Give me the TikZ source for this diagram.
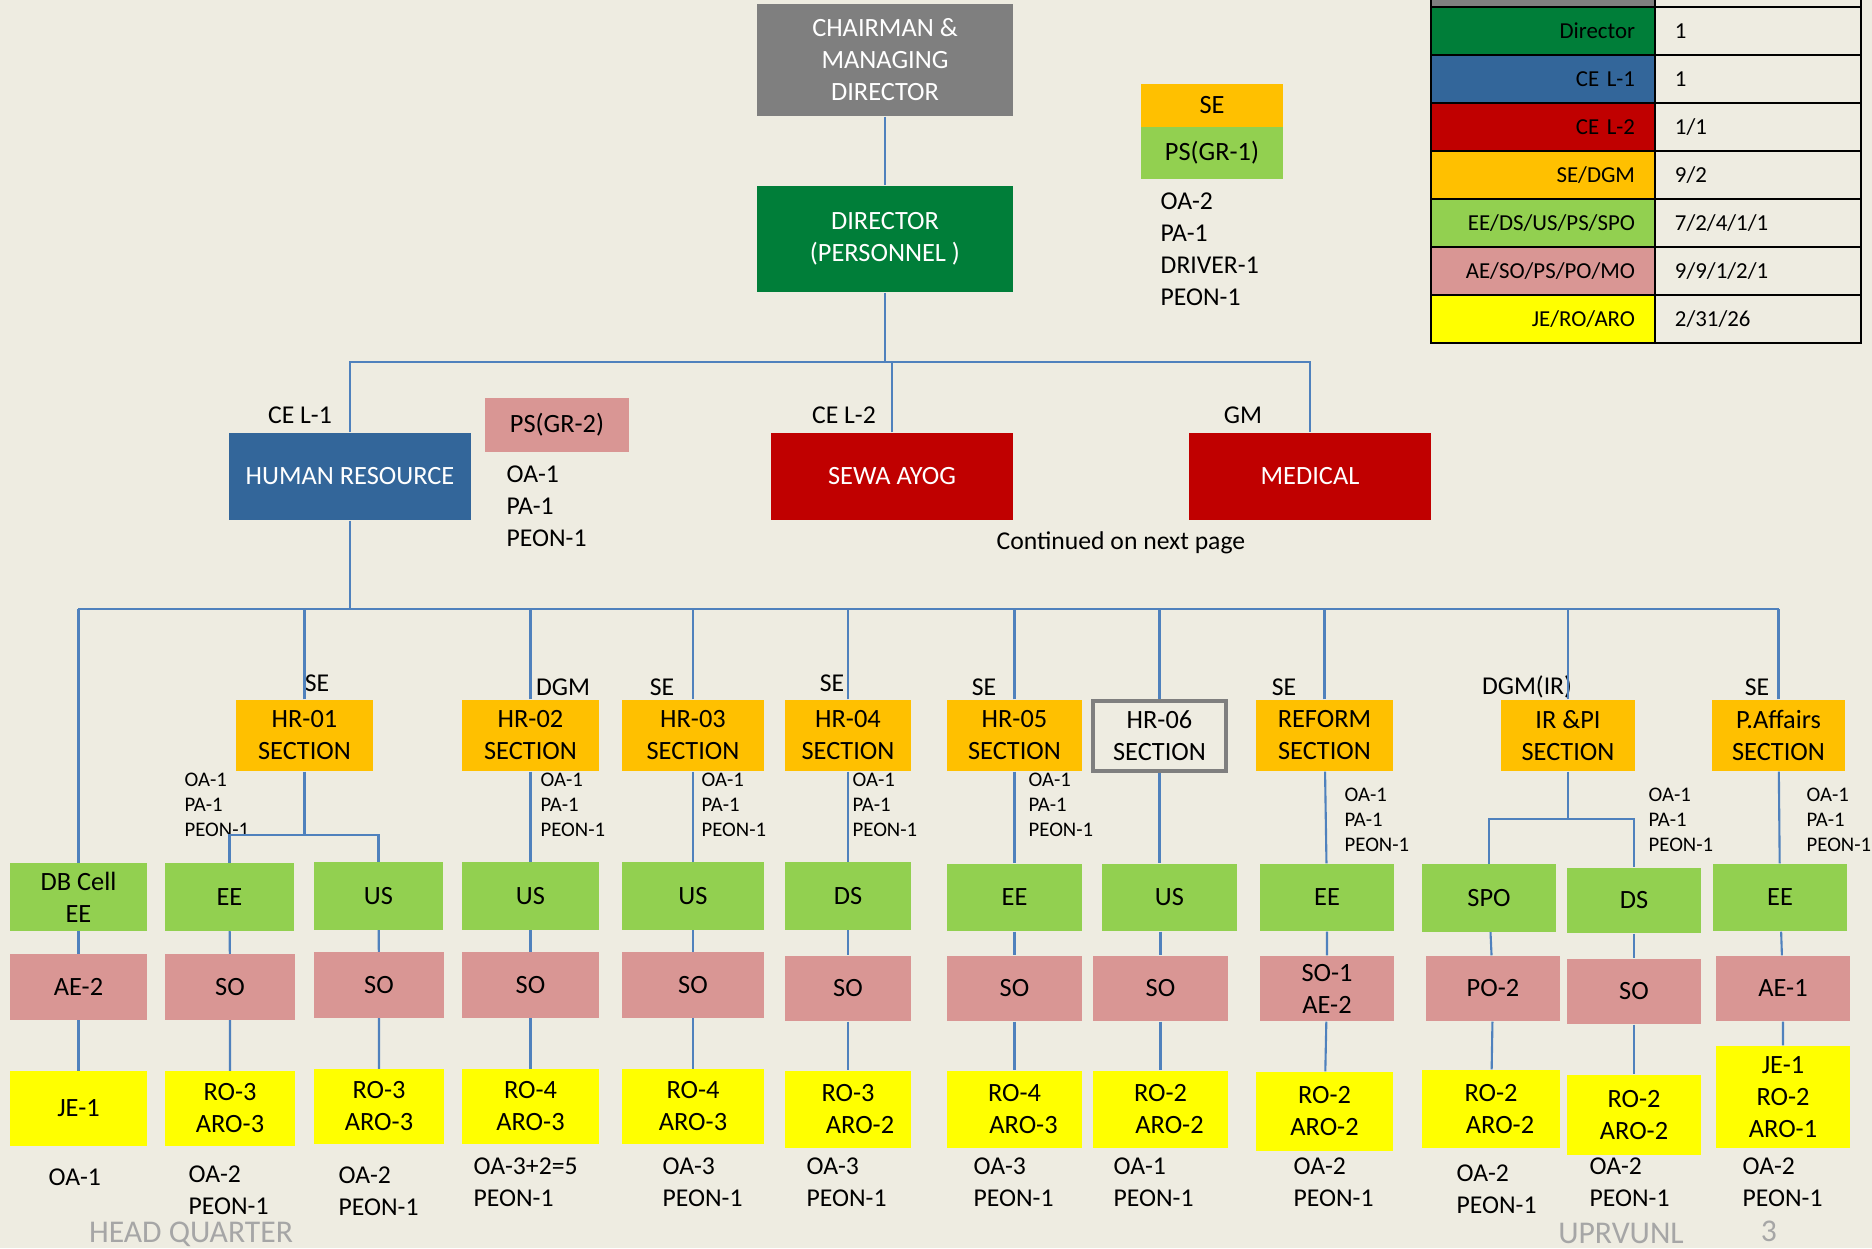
\documentclass[tikz,border=0pt]{standalone}
\usepackage{fontspec}
\setmainfont{Carlito}
\definecolor{paper}{HTML}{EEECE1}
\definecolor{linkBlue}{HTML}{4F81BD}
\definecolor{cmdGray}{HTML}{7F7F7F}
\definecolor{dirGreen}{HTML}{007E39}
\definecolor{ceBlue}{HTML}{33669A}
\definecolor{ceRed}{HTML}{C00000}
\definecolor{seOrange}{HTML}{FFC000}
\definecolor{eeGreen}{HTML}{92D050}
\definecolor{aePink}{HTML}{D99694}
\definecolor{jeYellow}{HTML}{FFFF00}
\definecolor{footGray}{HTML}{A6A6A6}

\begin{document}
\begin{tikzpicture}[
    x=0.01cm, y=-0.01cm,
    boxbase/.style = {inner sep=0pt, align=center, font=\fontsize{7.5}{9.1}\selectfont},
    topbox/.style = {boxbase, text=white},
    sect/.style = {boxbase, fill=seOrange, minimum height=0.71cm},
    post/.style = {boxbase, fill=eeGreen, minimum height=0.67cm},
    officer/.style = {boxbase, fill=aePink, minimum height=0.65cm},
    junior/.style = {boxbase, fill=jeYellow, minimum height=0.74cm},
    link/.style = {draw=linkBlue, line width=0.6pt},
    rank/.style = {inner sep=0pt, font=\fontsize{7.3}{9}\selectfont},
    staff/.style = {inner sep=0pt, anchor=north west, align=left, font=\fontsize{7.3}{9.1}\selectfont},
    substaff/.style = {inner sep=0pt, anchor=north west, align=left, font=\fontsize{5.9}{7.2}\selectfont},
    keycell/.style = {draw=black, line width=0.7pt, minimum height=0.48cm, text width=1.84cm,
      inner xsep=0.2cm, inner ysep=0pt, align=right, font=\fontsize{6.5}{8}\selectfont},
    valcell/.style = {draw=black, line width=0.7pt, minimum height=0.48cm, text width=1.66cm,
      inner xsep=0.2cm, inner ysep=0pt, align=left, fill=paper, font=\fontsize{6.5}{8}\selectfont},
    footer/.style = {inner sep=0pt, text=footGray, font=\fontsize{9}{10}\selectfont}
  ]
\fill[paper] (0,0) rectangle (1872,1248);
\useasboundingbox (0,0) rectangle (1872,1248);

% top of the chart
\node[topbox, fill=cmdGray, minimum width=2.56cm, minimum height=1.12cm] (cmd) at (885,60) {CHAIRMAN \&\\MANAGING\\DIRECTOR};
\node[topbox, fill=dirGreen, minimum width=2.56cm, minimum height=1.06cm] (dirp) at (885,239) {DIRECTOR\\(PERSONNEL )};
\node[boxbase, fill=seOrange, minimum width=1.42cm, minimum height=0.43cm] (sepd) at (1212,105.5) {SE};
\node[boxbase, fill=eeGreen, minimum width=1.42cm, minimum height=0.52cm] (psgr1) at (1212,153) {PS(GR-1)};
\node[staff] (pdstaff) at (1160,192) {OA-2\\PA-1\\DRIVER-1\\PEON-1};

\node[topbox, fill=ceBlue, minimum width=2.42cm, minimum height=0.87cm] (hr) at (350,476.5) {HUMAN RESOURCE};
\node[topbox, fill=ceRed, minimum width=2.42cm, minimum height=0.87cm] (sewa) at (892,476.5) {SEWA AYOG};
\node[topbox, fill=ceRed, minimum width=2.42cm, minimum height=0.87cm] (med) at (1310,476.5) {MEDICAL};
\node[boxbase, fill=aePink, minimum width=1.44cm, minimum height=0.54cm] (psgr2) at (557,425) {PS(GR-2)};
\node[staff] (hrstaff) at (506,465) {OA-1\\PA-1\\PEON-1};
\node[rank] (lcel1) at (300,415) {CE L-1};
\node[rank] (lcel2) at (844,415) {CE L-2};
\node[rank] (lgm) at (1243,415) {GM};
\node[rank] (cont) at (1121,543) {Continued on next page};

\coordinate (topbus) at (885,362);
\draw[link] (cmd) -- (dirp);
\draw[link] (dirp) -- (topbus);
\draw[link] (hr) |- (topbus) -| (med);
\draw[link] (sewa) -- (sewa |- topbus);

% legend
\node[keycell, fill=cmdGray] (k0) at (1543,-17) {};
\node[valcell] (v0) at (1758,-17) {};
\node[keycell, fill=dirGreen] (k1) at (1543,31) {Director};
\node[valcell] (v1) at (1758,31) {1};
\node[keycell, fill=ceBlue] (k2) at (1543,79) {CE L-1};
\node[valcell] (v2) at (1758,79) {1};
\node[keycell, fill=ceRed] (k3) at (1543,127) {CE L-2};
\node[valcell] (v3) at (1758,127) {1/1};
\node[keycell, fill=seOrange] (k4) at (1543,175) {SE/DGM};
\node[valcell] (v4) at (1758,175) {9/2};
\node[keycell, fill=eeGreen] (k5) at (1543,223) {EE/DS/US/PS/SPO};
\node[valcell] (v5) at (1758,223) {7/2/4/1/1};
\node[keycell, fill=aePink] (k6) at (1543,271) {AE/SO/PS/PO/MO};
\node[valcell] (v6) at (1758,271) {9/9/1/2/1};
\node[keycell, fill=jeYellow] (k7) at (1543,319) {JE/RO/ARO};
\node[valcell] (v7) at (1758,319) {2/31/26};

% sections
\node[sect, minimum width=1.37cm] (hr01) at (304.5,735.5) {HR-01\\SECTION};
\node[sect, minimum width=1.37cm] (hr02) at (530.5,735.5) {HR-02\\SECTION};
\node[sect, minimum width=1.42cm] (hr03) at (693,735.5) {HR-03\\SECTION};
\node[sect, minimum width=1.26cm] (hr04) at (848,735.5) {HR-04\\SECTION};
\node[sect, minimum width=1.35cm] (hr05) at (1014.5,735.5) {HR-05\\SECTION};
\node[boxbase, draw=cmdGray, line width=1.1pt, minimum width=1.33cm, minimum height=0.70cm] (hr06) at (1159.5,736) {HR-06\\SECTION};
\node[sect, minimum width=1.37cm] (reform) at (1324.5,735.5) {REFORM\\SECTION};
\node[sect, minimum width=1.34cm] (irpi) at (1568,735.5) {IR \&PI\\SECTION};
\node[sect, minimum width=1.33cm] (paff) at (1778.5,735.5) {P.Affairs\\SECTION};

\node[rank] (lse1) at (317,683) {SE};
\node[rank] (ldgm2) at (563,687) {DGM};
\node[rank] (lse3) at (662,687) {SE};
\node[rank] (lse4) at (832,683) {SE};
\node[rank] (lse5) at (984,687) {SE};
\node[rank] (lse7) at (1284,687) {SE};
\node[rank] (ldgm8) at (1527,687) {DGM(IR)};
\node[rank] (lse9) at (1757,687) {SE};

\node[substaff] (sub1) at (184,772) {OA-1\\PA-1\\PEON-1};
\node[substaff] (sub2) at (540,772) {OA-1\\PA-1\\PEON-1};
\node[substaff] (sub3) at (701,772) {OA-1\\PA-1\\PEON-1};
\node[substaff] (sub4) at (852,772) {OA-1\\PA-1\\PEON-1};
\node[substaff] (sub5) at (1028,772) {OA-1\\PA-1\\PEON-1};
\node[substaff] (sub7) at (1344,787) {OA-1\\PA-1\\PEON-1};
\node[substaff] (sub8) at (1648,787) {OA-1\\PA-1\\PEON-1};
\node[substaff] (sub9) at (1806,787) {OA-1\\PA-1\\PEON-1};

% officers
\node[post, minimum width=1.37cm] (db) at (78.5,897) {DB Cell\\EE};
\node[post, minimum width=1.29cm] (ee1) at (229.5,897) {EE};
\node[post, minimum width=1.29cm] (us1) at (378.5,896) {US};
\node[post, minimum width=1.37cm] (us2) at (530.5,896) {US};
\node[post, minimum width=1.42cm] (us3) at (693,896) {US};
\node[post, minimum width=1.26cm] (ds4) at (848,896) {DS};
\node[post, minimum width=1.35cm] (ee5) at (1014.5,897.5) {EE};
\node[post, minimum width=1.35cm] (us6) at (1169.5,897.5) {US};
\node[post, minimum width=1.34cm] (ee7) at (1327,897.5) {EE};
\node[post, minimum width=1.34cm] (spo) at (1489,898) {SPO};
\node[post, minimum width=1.34cm, minimum height=0.65cm] (ds8) at (1634,900.5) {DS};
\node[post, minimum width=1.34cm] (ee9) at (1780,897.5) {EE};

\node[officer, minimum width=1.37cm] (ae0) at (78.5,987) {AE-2};
\node[officer, minimum width=1.30cm] (so1) at (230,987) {SO};
\node[officer, minimum width=1.30cm] (so1b) at (379,985) {SO};
\node[officer, minimum width=1.37cm] (so2) at (530.5,985) {SO};
\node[officer, minimum width=1.42cm] (so3) at (693,985) {SO};
\node[officer, minimum width=1.26cm] (so4) at (848,988.5) {SO};
\node[officer, minimum width=1.35cm] (so5) at (1014.5,988.5) {SO};
\node[officer, minimum width=1.35cm] (so6) at (1160.5,988.5) {SO};
\node[officer, minimum width=1.34cm] (soae7) at (1327,988.5) {SO-1\\AE-2};
\node[officer, minimum width=1.34cm] (po) at (1493,988.5) {PO-2};
\node[officer, minimum width=1.34cm] (so8) at (1634,991.5) {SO};
\node[officer, minimum width=1.34cm] (ae9) at (1783,988.5) {AE-1};

\node[junior, minimum width=1.37cm] (je0) at (78.5,1108.5) {JE-1};
\node[junior, minimum width=1.30cm] (ro1) at (230,1108.5) {RO-3\\ARO-3};
\node[junior, minimum width=1.30cm] (ro1b) at (379,1106.5) {RO-3\\ARO-3};
\node[junior, minimum width=1.37cm] (ro2) at (530.5,1106.5) {RO-4\\ARO-3};
\node[junior, minimum width=1.42cm] (ro3) at (693,1106.5) {RO-4\\ARO-3};
\node[junior, minimum width=1.26cm, minimum height=0.77cm] (ro4) at (848,1109.5) {RO-3\\\hspace*{0.24cm}ARO-2};
\node[junior, minimum width=1.35cm, minimum height=0.77cm] (ro5) at (1014.5,1109.5) {RO-4\\\hspace*{0.18cm}ARO-3};
\node[junior, minimum width=1.35cm, minimum height=0.77cm] (ro6) at (1160.5,1109.5) {RO-2\\\hspace*{0.18cm}ARO-2};
\node[junior, minimum width=1.37cm, minimum height=0.79cm] (ro7) at (1324.5,1111.5) {RO-2\\ARO-2};
\node[junior, minimum width=1.38cm, minimum height=0.78cm] (ro8a) at (1491,1109) {RO-2\\\hspace*{0.18cm}ARO-2};
\node[junior, minimum width=1.34cm, minimum height=0.80cm] (ro8b) at (1634,1115) {RO-2\\ARO-2};
\node[junior, minimum width=1.34cm, minimum height=1.02cm] (ro9) at (1783,1097) {JE-1\\RO-2\\ARO-1};

\node[staff] (st0) at (48,1168) {OA-1};
\node[staff] (st1) at (188,1165) {OA-2\\PEON-1};
\node[staff] (st1b) at (338,1166) {OA-2\\PEON-1};
\node[staff] (st2) at (473,1157) {OA-3+2=5\\PEON-1};
\node[staff] (st3) at (662,1157) {OA-3\\PEON-1};
\node[staff] (st4) at (806,1157) {OA-3\\PEON-1};
\node[staff] (st5) at (973,1157) {OA-3\\PEON-1};
\node[staff] (st6) at (1113,1157) {OA-1\\PEON-1};
\node[staff] (st7) at (1293,1157) {OA-2\\PEON-1};
\node[staff] (st8a) at (1456,1164) {OA-2\\PEON-1};
\node[staff] (st8b) at (1589,1157) {OA-2\\PEON-1};
\node[staff] (st9) at (1742,1157) {OA-2\\PEON-1};

% connectors
\coordinate (busL) at (78,609);
\coordinate (busR) at (1779,609);
\draw[link] (busL) -- (busR);
\draw[link] (hr) -- (hr |- busL);
\draw[link] (db) -- (db |- busL);
\draw[link] (hr01) -- (hr01 |- busL);
\draw[link] (hr02) -- (hr02 |- busL);
\draw[link] (hr03) -- (hr03 |- busL);
\draw[link] (hr04) -- (hr04 |- busL);
\draw[link] (hr05) -- (hr05 |- busL);
\draw[link] (hr06) -- (hr06 |- busL);
\draw[link] (reform) -- (reform |- busL);
\draw[link] (irpi) -- (irpi |- busL);
\draw[link] (paff) -- (paff |- busL);

\coordinate (fork1) at (304.5,835);
\draw[link] (hr01) -- (fork1);
\draw[link] (ee1) |- (fork1) -| (us1);
\coordinate (fork8) at (1568,819);
\draw[link] (irpi) -- (fork8);
\draw[link] (spo) |- (fork8) -| (ds8);

\draw[link] (db) -- (ae0) -- (je0);
\draw[link] (ee1) -- (so1) -- (ro1);
\draw[link] (us1) -- (so1b) -- (ro1b);
\draw[link] (hr02) -- (us2) -- (so2) -- (ro2);
\draw[link] (hr03) -- (us3) -- (so3) -- (ro3);
\draw[link] (hr04) -- (ds4) -- (so4) -- (ro4);
\draw[link] (hr05) -- (ee5) -- (so5) -- (ro5);
\draw[link] (hr06) -- (hr06 |- us6.north);
\draw[link] (so6 |- us6.south) -- (so6) -- (ro6);
\draw[link] (reform) -- (ee7) -- (soae7) -- (ro7);
\draw[link] (spo) -- (po) -- (ro8a);
\draw[link] (ds8) -- (so8) -- (ro8b);
\draw[link] (paff) -- (ee9) -- (ae9) -- (ro9);

% footer
\node[footer] (hq) at (191,1234) {HEAD QUARTER};
\node[footer] (org) at (1621,1233) {UPRVUNL};
\node[footer] (pg) at (1769,1231) {3};
\end{tikzpicture}
\end{document}
